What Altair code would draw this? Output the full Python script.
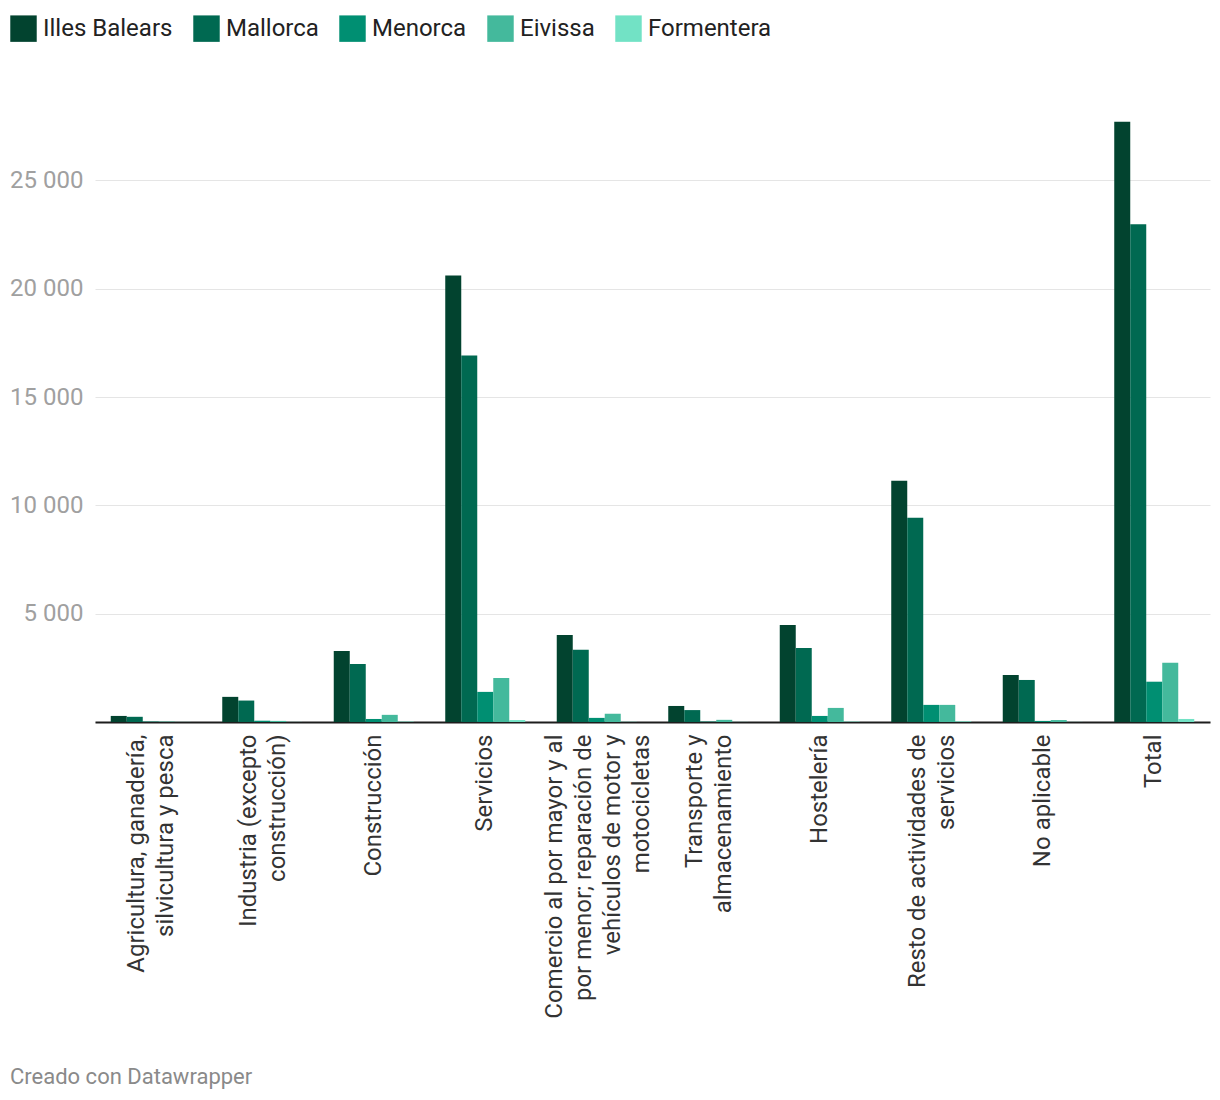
import altair as alt
import pandas as pd

categories = [
    "Agricultura, ganadería,|silvicultura y pesca",
    "Industria (excepto|construcción)",
    "Construcción",
    "Servicios",
    "Comercio al por mayor y al|por menor; reparación de|vehículos de motor y|motocicletas",
    "Transporte y|almacenamiento",
    "Hostelería",
    "Resto de actividades de|servicios",
    "No aplicable",
    "Total",
]
series = ["Illes Balears", "Mallorca", "Menorca", "Eivissa", "Formentera"]
colors = ["#02432f", "#006951", "#008f72", "#44b99c", "#72e2c5"]

illes_balears = [280, 1160, 3280, 20610, 4020, 740, 4480, 11140, 2170, 27700]
mallorca      = [240,  990, 2680, 16910, 3330, 550, 3420,  9430, 1940, 22970]
menorca       = [ 20,   60,  140,  1390,  190,  20,  280,   790,   50,  1860]
eivissa       = [ 20,   50,  330,  2030,  380, 100,  650,   790,   90,  2730]
formentera    = [  5,    5,   20,    90,   10,   5,   20,    30,    5,   140]

rows = []
for s, vals in zip(series, [illes_balears, mallorca, menorca, eivissa, formentera]):
    for c, v in zip(categories, vals):
        rows.append({"categoria": c, "zona": s, "valor": v})
df = pd.DataFrame(rows)

FONT = "Roboto"
LH = 29
nlines = "length(split(datum.value, '|'))"

bars = alt.Chart(df).mark_bar().encode(
    x=alt.X(
        "categoria:N",
        sort=categories,
        title=None,
        scale=alt.Scale(paddingInner=0.2825, paddingOuter=0.1413),
        axis=alt.Axis(
            labelAngle=-90,
            labelExpr="split(datum.label, '|')",
            labelFontSize=24,
            labelFont=FONT,
            labelColor="#333333",
            labelLimit=500,
            labelPadding=12,
            labelLineHeight=LH,
            labelOffset={
                "condition": [
                    {"test": f"{nlines} == 2", "value": -LH / 2 + 1},
                    {"test": f"{nlines} == 3", "value": -LH + 1},
                    {"test": f"{nlines} == 4", "value": -1.5 * LH + 2},
                ],
                "value": 0,
            },
            ticks=False,
            domain=True,
            domainColor="#1d1d1d",
            domainWidth=2,
            grid=False,
        ),
    ),
    xOffset=alt.XOffset("zona:N", sort=series, scale=alt.Scale(paddingInner=0, paddingOuter=0)),
    y=alt.Y(
        "valor:Q",
        title=None,
        scale=alt.Scale(domain=[0, 30000], nice=False),
        axis=alt.Axis(
            values=[0, 5000, 10000, 15000, 20000, 25000],
            labelExpr="datum.value == 0 ? '' : replace(format(datum.value, ','), ',', ' ')",
            labelFontSize=24,
            labelFont=FONT,
            labelColor="#a0a0a0",
            labelPadding=12,
            ticks=False,
            domain=False,
            grid=True,
            gridColor="#e5e5e5",
            gridWidth=1,
        ),
    ),
    color=alt.Color(
        "zona:N",
        sort=series,
        scale=alt.Scale(domain=series, range=colors),
        legend=alt.Legend(
            title=None,
            orient="none",
            direction="horizontal",
            legendX=-85,
            legendY=-57,
            symbolType="square",
            symbolSize=700,
            symbolStrokeWidth=0,
            symbolOpacity=1,
            labelFontSize=24,
            labelFont=FONT,
            labelColor="#222222",
            columnPadding=20,
            labelOffset=6,
        ),
    ),
)

footer = alt.Chart(pd.DataFrame({"t": ["Creado con Datawrapper"]})).mark_text(
    align="left", baseline="middle", fontSize=22, font=FONT, color="#8a8a8a"
).encode(text="t:N", x=alt.value(-85), y=alt.value(1005))

chart = alt.layer(bars, footer).properties(
    width=1115,
    height=650,
    padding={"left": 87, "top": 64, "right": 2, "bottom": 368},
    autosize=alt.AutoSizeParams(type="none"),
).configure_view(stroke=None)

chart.save("out.html", embed_options={"renderer": "svg", "actions": False})
